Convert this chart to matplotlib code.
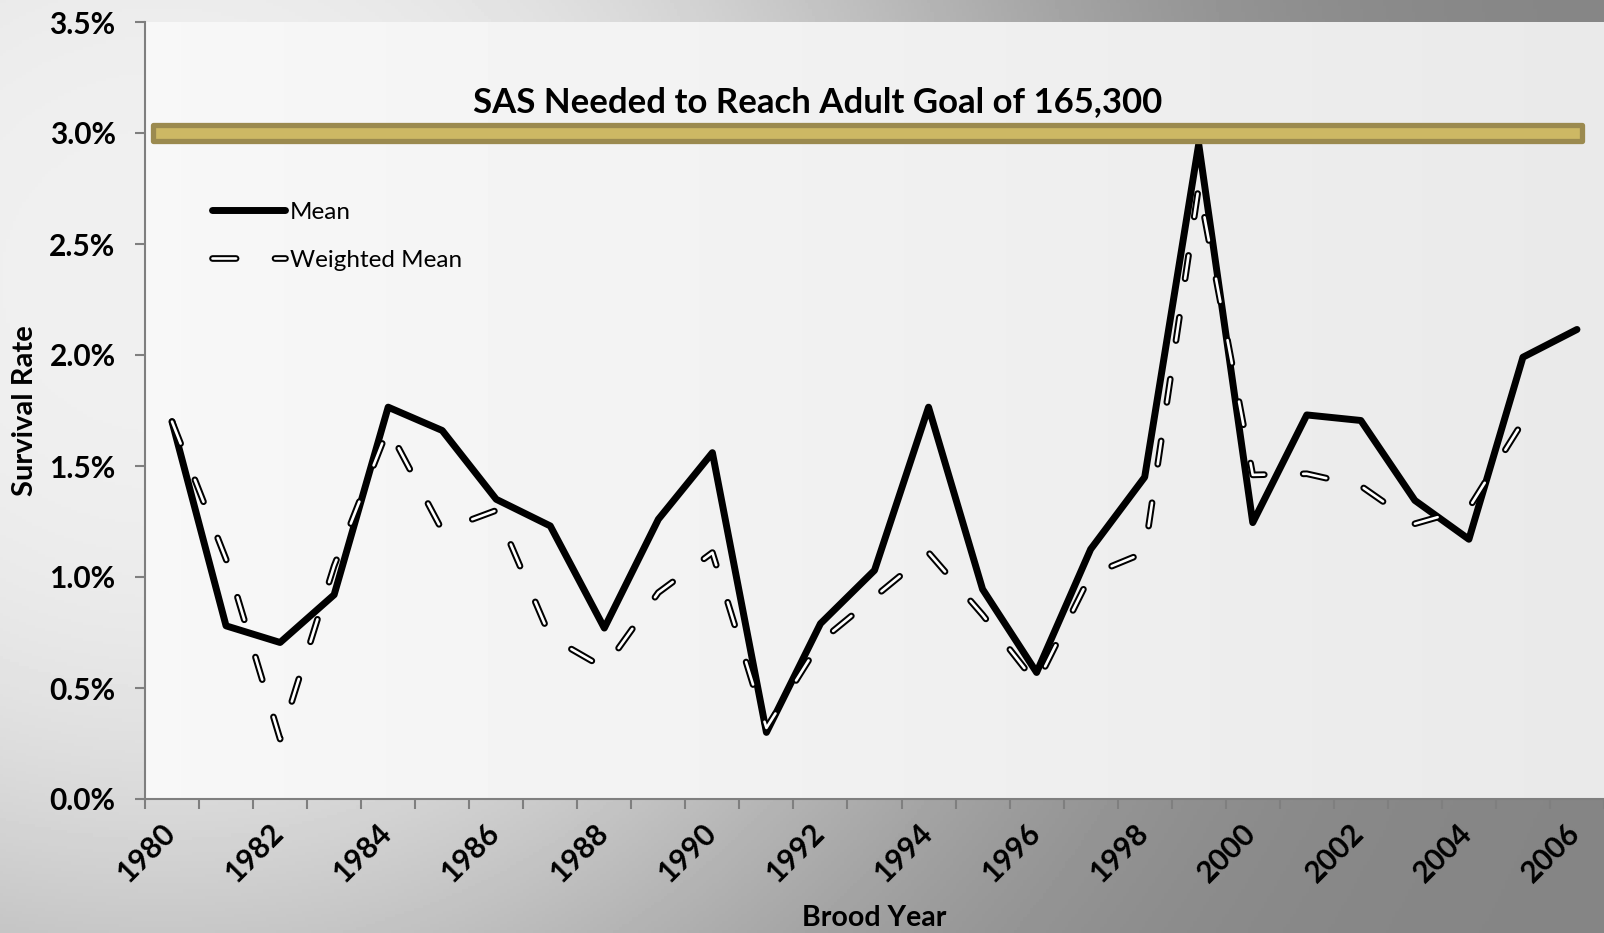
import numpy as np
import matplotlib
matplotlib.use('Agg')
import matplotlib.pyplot as plt
import matplotlib.patheffects as pe
from matplotlib.patches import Rectangle
from matplotlib.transforms import blended_transform_factory, ScaledTranslation

plt.rcParams['font.family'] = ['Lato', 'DejaVu Sans']
plt.rcParams['lines.scale_dashes'] = False

############################## data ##############################
years = list(range(1980, 2007))
mean_rate = [1.70, 0.78, 0.705, 0.92, 1.765, 1.66, 1.35, 1.23, 0.77, 1.26,
             1.56, 0.30, 0.79, 1.03, 1.765, 0.945, 0.57, 1.125, 1.45, 2.95,
             1.245, 1.73, 1.705, 1.345, 1.17, 1.99, 2.115]

weighted_years = list(range(1980, 2006))
weighted_rate = [1.70, 1.08, 0.27, 1.05, 1.67, 1.21, 1.30, 0.73, 0.59, 0.93,
                 1.11, 0.32, 0.71, 0.91, 1.11, 0.83, 0.52, 1.01, 1.11, 2.76,
                 1.46, 1.465, 1.41, 1.24, 1.31, 1.70]

goal_rate = 3.0
goal_text = 'SAS Needed to Reach Adult Goal of 165,300'
y_ticks = [0.0, 0.5, 1.0, 1.5, 2.0, 2.5, 3.0, 3.5]
x_labels = years[::2]

fig = plt.figure(figsize=(16.04, 9.33), dpi=100)

# slide-like grey background
bg = fig.add_axes([0, 0, 1, 1], zorder=-10)
yy, xx = np.mgrid[0:1:300j, 0:1:500j]
d2 = ((xx - 0.1) / 0.55) ** 2 + ((yy - 0.3) / 0.9) ** 2
shade = 0.52 + 0.42 * np.exp(-d2 ** 1.5)
bg.imshow(shade, cmap='gray', vmin=0, vmax=1, aspect='auto', extent=[0, 1, 1, 0])
bg.set_axis_off()

ax = fig.add_axes([145 / 1604, 134 / 933, 1459 / 1604, 777 / 933])
ax.set_facecolor('none')
grad = np.linspace(0.97, 0.915, 200)[None, :]
ax.imshow(grad, cmap='gray', vmin=0, vmax=1, aspect='auto', extent=[0, 1, 0, 1],
          transform=ax.transAxes, zorder=0)

# mean line
ax.plot(years, mean_rate, color='black', lw=5.0, solid_joinstyle='round',
        solid_capstyle='round', zorder=3, label='Mean')

# weighted mean: white dashes with black outline
ax.plot(weighted_years, weighted_rate, color='white', lw=1.9, dashes=(17, 28),
        dash_capstyle='round', dash_joinstyle='round', zorder=4,
        path_effects=[pe.Stroke(linewidth=4.8, foreground='black'), pe.Normal()],
        label='Weighted Mean')

# goal band
trans = blended_transform_factory(ax.transAxes, ax.transData)
band = Rectangle((8 / 1459, goal_rate - 0.035), 1429 / 1459, 0.07, transform=trans,
                 facecolor='#cdb864', edgecolor='#9b8a4f', lw=3.8, zorder=5,
                 joinstyle='round')
ax.add_patch(band)
ax.text(0.461, 0.897, goal_text, transform=ax.transAxes, ha='center', va='center',
        fontsize=25, fontweight='bold', zorder=6)

ax.set_xlim(1979.5, 2006.5)
ax.set_ylim(0, 3.5)

ax.set_yticks(y_ticks)
ax.set_yticklabels(['%.1f%%' % v for v in y_ticks])
ax.set_xticks(x_labels)
ax.set_xticklabels([str(v) for v in x_labels], rotation=45, ha='right',
                   rotation_mode='anchor')
ax.set_xticks(np.arange(1979.5, 2007, 1), minor=True)

ax.tick_params(axis='x', which='major', length=0, pad=14)
ax.tick_params(axis='x', which='minor', length=7.2, width=1.5, color='#7f7f7f')
ax.tick_params(axis='y', length=7.2, width=1.5, color='#7f7f7f', pad=14)

# nudge rotated year labels left (after tick_params, which resets transforms)
shift = ScaledTranslation(-11 / 100, 0, fig.dpi_scale_trans)
for lab in ax.get_xticklabels():
    lab.set_transform(lab.get_transform() + shift)
for lab in ax.get_xticklabels() + ax.get_yticklabels():
    lab.set_fontweight('bold')
    lab.set_fontsize(21.5)

for side in ['top', 'right']:
    ax.spines[side].set_visible(False)
for side in ['left', 'bottom']:
    ax.spines[side].set_color('#7f7f7f')
    ax.spines[side].set_linewidth(1.5)
    ax.spines[side].set_zorder(7)

ax.set_ylabel('Survival Rate', fontsize=21, fontweight='bold')
ax.yaxis.set_label_coords(-0.0822, 0.5)
ax.yaxis.label.set_va('center')
ax.set_xlabel('Brood Year', fontsize=20.5, fontweight='bold')
ax.xaxis.set_label_coords(0.5, -0.153)
ax.xaxis.label.set_va('center')

ax.legend(loc='upper left', bbox_to_anchor=(0.0459, 0.769), frameon=False,
          fontsize=17.5, handlelength=3.0, handletextpad=0.2, labelspacing=1.12,
          borderpad=0, borderaxespad=0)

fig.savefig('out.png', dpi=100)
